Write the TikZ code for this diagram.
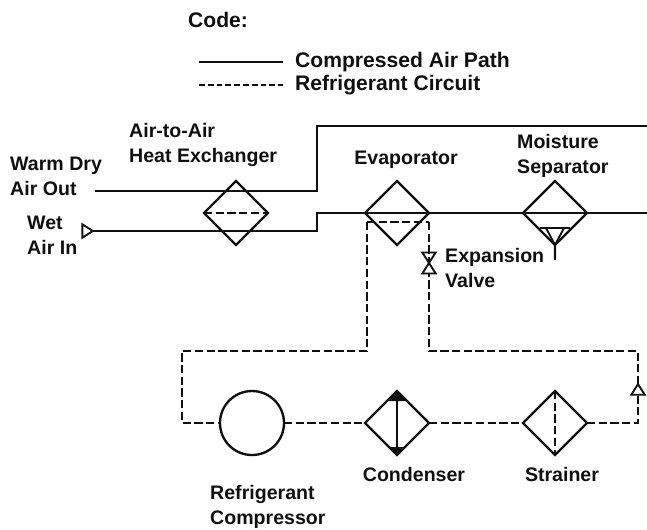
\documentclass[tikz,border=0pt]{standalone}
\usepackage{tikz}
\usepackage{xcolor}
\usepackage{fontspec}
\setmainfont{Liberation Sans}
\usetikzlibrary{arrows.meta,positioning,shapes.geometric,calc}
\definecolor{scanink}{RGB}{15,15,15}

\begin{document}
\begin{tikzpicture}[x=0.03cm,y=-0.03cm,
        exch/.style={diamond,draw=scanink,fill=none,line width=2pt,aspect=1,inner sep=0pt,outer sep=0pt,minimum width=1.92cm,minimum height=1.92cm},
        compbox/.style={circle,draw=scanink,line width=2pt,inner sep=0pt,outer sep=0pt,minimum size=1.92cm},
        txt/.style={inner sep=0pt,align=left,text=scanink,font=\fontsize{16.7pt}{21.3pt}\selectfont\bfseries},
        keytxt/.style={txt,font=\fontsize{18pt}{21pt}\selectfont\bfseries},
        air/.style={draw=scanink,line width=2pt},
        refr/.style={draw=scanink,line width=1.8pt,dash pattern=on 7pt off 3pt},
        keyrefr/.style={refr,dash pattern=on 5pt off 2.5pt},
        tip/.style={isosceles triangle,draw=scanink,fill=white,line width=1.6pt,inner sep=0pt,outer sep=0pt,isosceles triangle apex angle=65,minimum height=9pt,minimum width=10pt}]
        \useasboundingbox (0,0) rectangle (647,529);
        % exchangers
        \node[exch] (evap) at (397,213) {};
        \node[exch,right=2.82cm of evap] (sep) {};
        \node[exch,left=2.91cm of evap] (hx) {};
        \node[exch,below=4.38cm of evap] (cond) {};
        \node[exch,right=2.82cm of cond] (strainer) {};
        \node[compbox,left=2.43cm of cond] (comp) {};
        % valve
        \coordinate (vtop) at (429,222);
        \coordinate (vmid) at (429,263);
        \coordinate (ltop) at (367,222);
        \node[tip,shape border rotate=270,anchor=apex] (v1) at (vmid) {};
        \node[tip,shape border rotate=90,anchor=apex] (v2) at (vmid) {};
        % free ends and corners
        \coordinate (outend) at (95,191);
        \coordinate (outtop) at (317,126);
        \coordinate (outright) at (647,126);
        \coordinate (inright) at (647,213);
        \node[tip,shape border rotate=0] (wet) at (86,231) {};
        \node[tip,shape border rotate=90] (chk) at (638,391) {};
        % compressed air
        \draw[air] (outend) -| (outtop) -- (outright);
        \draw[air] (wet.apex) -| (317,213) -- (evap.west);
        \draw[air] (evap.west) -- (evap.east) -- (sep.west) -- (sep.east) -- (inright);
        % refrigerant
        \draw[refr] (hx.west) -- (hx.east);
        \draw[refr] (ltop) -- (vtop);
        \draw[refr] (ltop) -- (367,351) -- (182,351) |- (comp.west);
        \draw[refr] (comp.east) -- (cond.west);
        \draw[refr] (cond.east) -- (strainer.west);
        \draw[refr] (strainer.north) -- (strainer.south);
        \draw[refr] (strainer.east) -| (chk.south);
        \draw[refr] (chk.apex) |- (429,351) -- (v2.south);
        \draw[refr] (vtop) -- (v1.south);
        % condenser core
        \draw[air] (cond.north) -- (cond.south);
        \fill[scanink] (cond.north) -- ++(-10,10) -- ++(20,0) -- cycle;
        \fill[scanink] (cond.south) -- ++(-8,-8) -- ++(16,0) -- cycle;
        % trap
        \coordinate (trapend) at (555,260);
        \draw[air] (sep.south) -- (trapend);
        \draw[air] (540,228) -- (570,228);
        \draw[air,line width=1.6pt] (546,228) -- (sep.south) -- (564,228);
        % legend
        \coordinate (k1a) at (199,62);
        \coordinate (k1b) at (283,62);
        \coordinate (k2a) at (199,85);
        \coordinate (k2b) at (283,85);
        \draw[air] (k1a) -- (k1b);
        \draw[keyrefr] (k2a) -- (k2b);
        \node[keytxt,anchor=west] (code) at (188,20) {Code:};
        \node[keytxt,anchor=west] (k1) at (295,62) {Compressed Air Path};
        \node[keytxt,anchor=west] (k2) at (295,85) {Refrigerant Circuit};
        % labels
        \node[txt,anchor=west] (lhx) at (129,145) {Air-to-Air\\Heat Exchanger};
        \node[txt,above=0.38cm of evap,xshift=0.27cm] (levap) {Evaporator};
        \node[txt,anchor=west] (lsep) at (517,156) {Moisture\\Separator};
        \node[txt,anchor=west] (lval) at (445,268) {Expansion\\Valve};
        \node[txt,anchor=west] (lout) at (10,176) {Warm Dry\\Air Out};
        \node[txt,anchor=west] (lin) at (27,235) {Wet\\Air In};
        \node[txt,below=0.36cm of cond,xshift=0.51cm] (lcond) {Condenser};
        \node[txt,below=0.36cm of strainer,xshift=0.21cm] (lstr) {Strainer};
        \node[txt,anchor=west] (lcomp) at (210,507) {Refrigerant\\Compressor};
      \end{tikzpicture}
\end{document}
